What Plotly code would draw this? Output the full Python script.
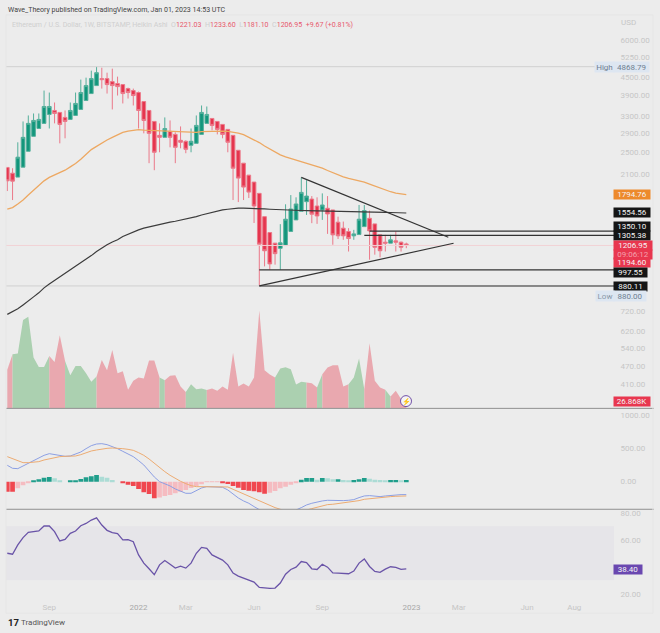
import numpy as np
import pandas as pd
import plotly.graph_objects as go

# Weekly Heikin Ashi candles
weeks = pd.date_range('2021-07-12', periods=77, freq='7D')
open_ = [2218, 2121, 2057, 2223, 2516, 2827, 3006, 3128, 3354, 3460, 3407, 3277, 3226, 3328, 3487, 3739, 3947, 4201, 4436, 4436,
         4334, 4267, 4234, 4103, 4041, 3979, 3710, 3460, 3176, 2849, 2805, 2939, 2871, 2741, 2720, 2636, 2677, 2871, 3128, 3251,
         3176, 3103, 2985, 2849, 2536, 2293, 2089, 1979, 1812, 1511, 1335, 1229, 1180, 1206, 1346, 1473, 1575, 1698, 1733, 1642,
         1592, 1613, 1592, 1447, 1381, 1346, 1301, 1314, 1398, 1492, 1428, 1311, 1238, 1229, 1251, 1238, 1221.03]
high = [2218, 2205, 2699, 3176, 3328, 3380, 3380, 4041, 3979, 3682, 3407, 3460, 3682, 3979, 4402, 4470, 4720, 4868.79, 4831, 4646,
        4794, 4505, 4234, 4135, 4103, 4010, 3710, 3460, 3176, 3128, 3277, 3201, 2917, 3055, 2741, 3006, 3328, 3597, 3569, 3251,
        3176, 3103, 2985, 2849, 2536, 2293, 2089, 1979, 1812, 1511, 1335, 1229, 1425, 1664, 1788, 1757, 2052, 2009, 1774, 1757,
        1812, 1774, 1592, 1511, 1454, 1381, 1363, 1655, 1655, 1584, 1428, 1311, 1311, 1311, 1346, 1244, 1233.60]
low = [1845, 1720, 2057, 2223, 2516, 2827, 3006, 3128, 3006, 3128, 2677, 2784, 3226, 3328, 3487, 3739, 3947, 4201, 4103, 3947,
       3487, 3887, 3654, 3797, 3597, 3006, 2894, 2293, 2171, 2497, 2805, 2595, 2293, 2575, 2478, 2497, 2677, 2871, 3128, 2962,
       2871, 2784, 2497, 1720, 1693, 1720, 1747, 1438, 880, 1025, 999, 1039, 999, 1206, 1346, 1473, 1575, 1531, 1436, 1428,
       1473, 1321, 1213, 1269, 1261, 1151, 1261, 1314, 1398, 1080, 1123, 1100, 1151, 1229, 1151, 1151, 1181.10]
close = [1998, 1993, 2403, 2805, 3128, 3201, 3226, 3569, 3569, 3380, 3103, 3176, 3460, 3655, 3979, 4201, 4436, 4646, 4402, 4234,
         4201, 4168, 3947, 3979, 3887, 3460, 3201, 2894, 2497, 2805, 3006, 2805, 2595, 2699, 2555, 2720, 3079, 3407, 3354, 3079,
         2985, 2871, 2699, 2205, 2041, 1903, 1830, 1642, 1219, 1158, 1045, 1132, 1232, 1481, 1604, 1668, 1826, 1774, 1540, 1519,
         1655, 1543, 1311, 1301, 1301, 1274, 1321, 1481, 1584, 1352, 1190, 1158, 1229, 1261, 1238, 1190, 1206.95]

ma_orange = [1601, 1621, 1668, 1720, 1788, 1859, 1933, 1998, 2052, 2089, 2127, 2171, 2228, 2287, 2366, 2453, 2550, 2615, 2684, 2747,
             2805, 2856, 2917, 2945, 2968, 2978, 2968, 2962, 2955, 2955, 2955, 2945, 2939, 2924, 2917, 2910, 2917, 2932, 2939, 2945,
             2945, 2945, 2939, 2924, 2901, 2866, 2813, 2756, 2693, 2622, 2556, 2497, 2446, 2409, 2380, 2347, 2317, 2287, 2258, 2235,
             2205, 2166, 2127, 2094, 2062, 2037, 2021, 2005, 1979, 1948, 1918, 1888, 1859, 1835, 1816, 1802, 1794.76]
ma_black = [705, 719, 736, 759, 781, 808, 834, 867, 894, 919, 941, 968, 999, 1025, 1053, 1080, 1115, 1151, 1183, 1213,
            1240, 1261, 1295, 1320, 1340, 1363, 1381, 1395, 1406, 1420, 1431, 1447, 1458, 1469, 1481, 1492, 1511, 1531, 1547, 1564,
            1580, 1592, 1601, 1609, 1614, 1614, 1614, 1611, 1609, 1605, 1601, 1597, 1592, 1590, 1589, 1587, 1585, 1584, 1582, 1581,
            1580, 1579, 1578, 1576, 1575, 1573, 1572, 1570, 1569, 1567, 1566, 1564, 1562, 1561, 1559, 1558, 1554.56]

# Volume in thousands
volume = [148.5, 208.6, 211.2, 340.5, 353.3, 195.8, 160, 160, 202.2, 179.2, 281.6, 183, 128, 163.8, 163.8, 135.7, 102.4, 122.9, 186.9, 147.2,
          225.3, 135.7, 143.4, 71.7, 106.2, 119, 115.2, 184.3, 184.3, 119, 108.8, 125.4, 128, 84.5, 62.7, 93.4, 74.2, 76.8, 70.4, 76.8,
          67.8, 84.5, 71.7, 215, 84.5, 96, 84.5, 119, 377.6, 147.2, 130.6, 119, 153.6, 158.7, 151, 92.2, 102.4, 99.8, 97.3, 80.6,
          131.8, 157.4, 166.4, 166.4, 84.5, 93.4, 119, 192, 74.2, 250.9, 106.2, 80.6, 71.7, 46.1, 67.8, 35.8, 26.868]
# (first week, last week, direction) of each coloured stretch of the volume area
volume_runs = [(0, 1, 'down'), (1, 8, 'up'), (8, 11, 'down'), (11, 17, 'up'), (17, 29, 'down'), (29, 30, 'up'), (30, 34, 'down'),
               (34, 38, 'up'), (38, 51, 'down'), (51, 57, 'up'), (57, 59, 'down'), (59, 60, 'up'), (60, 65, 'down'),
               (65, 68, 'up'), (68, 72, 'down'), (72, 73, 'up'), (73, 76, 'down')]

macd = [245, 200, 195, 235, 275, 310, 350, 395, 420, 410, 390, 380, 385, 410, 445, 495, 540, 565, 570, 555,
        530, 495, 455, 420, 375, 315, 250, 160, 70, 0, -30, -65, -110, -145, -175, -175, -135, -95, -75, -75,
        -75, -85, -125, -190, -245, -290, -325, -375, -425, -465, -540, -565, -565, -555, -515, -425, -390, -350, -325, -305,
        -290, -280, -285, -285, -285, -280, -270, -240, -215, -210, -220, -225, -215, -205, -200, -195, -195]
signal = [375, 345, 315, 285, 285, 290, 300, 325, 345, 360, 375, 380, 380, 385, 405, 435, 460, 475, 490, 500,
          505, 505, 495, 485, 470, 435, 395, 340, 275, 210, 150, 95, 45, 5, -30, -60, -75, -75, -70, -70,
          -70, -70, -80, -115, -150, -185, -215, -255, -285, -320, -355, -390, -415, -445, -490, -465, -440, -425, -405, -385,
          -365, -345, -340, -330, -325, -315, -305, -285, -265, -255, -250, -245, -235, -225, -220, -215, -215]
hist = [-150, -150, -100, -55, -25, 10, 35, 60, 70, 50, 20, 0, 10, 20, 40, 65, 80, 100, 75, 60,
        25, 0, -20, -45, -65, -110, -160, -185, -250, -240, -215, -200, -175, -150, -125, -95, -65, -40, -5, -3,
        -2, -15, -35, -65, -90, -125, -135, -145, -160, -180, -165, -140, -100, -75, -45, -20, 30, 55, 55, 30,
        55, 50, 35, 35, 25, 20, 25, 35, 55, 45, 30, 25, 15, 25, 25, 15, 25]

rsi = [50.0, 49.3, 56.2, 61.6, 65.5, 66.0, 66.5, 70.2, 70.2, 66.0, 59.1, 60.3, 64.8, 66.5, 70.4, 72.1, 74.6, 76.3, 70.9, 67.0,
       65.3, 64.5, 59.9, 60.1, 58.6, 48.8, 42.7, 38.5, 34.1, 41.4, 44.6, 41.9, 39.0, 40.4, 39.0, 42.7, 50.0, 54.4, 53.7, 48.8,
       46.8, 44.9, 41.4, 35.3, 33.1, 31.6, 30.6, 28.6, 24.7, 24.2, 24.0, 24.2, 27.9, 34.5, 38.0, 39.7, 43.9, 43.1, 38.5, 38.0,
       41.9, 39.7, 35.5, 35.3, 35.3, 34.8, 36.8, 42.7, 45.8, 40.2, 36.5, 35.8, 38.2, 40.0, 39.5, 38.0, 38.40]

# Drawn levels: (start date, price)
levels = [('2022-06-13', 997.55), ('2022-06-13', 880.11), ('2022-11-07', 1350.10), ('2022-10-31', 1305.38)]
triangle_low = (['2022-06-13', '2023-02-27'], [880.11, 1228])
triangle_high = (['2022-08-08', '2023-02-20'], [2052, 1286])
high_price = 4868.79
low_price = 880.11
last_price = 1206.95

price_ticks = [6000, 5250, 4500, 3900, 3300, 2900, 2500, 2100, 720, 620, 540, 470, 410]
macd_ticks = [1000, 500, 0]
rsi_ticks = [80, 60, 20]
time_ticks = ['2021-09-06', '2022-01-03', '2022-03-07', '2022-06-06', '2022-09-05', '2023-01-02', '2023-03-06', '2023-06-05', '2023-08-07']
year_tag = "<span style='color:#a8a8a8'>"
time_labels = ['Sep', f'{year_tag}2022</span>', 'Mar', 'Jun', 'Sep', f'{year_tag}2023</span>', 'Mar', 'Jun', 'Aug']

W, H = 660, 633
BG = '#ececec'
GREEN, RED = '#12967c', '#e5354e'
TICK = '#c6c6c6'
FONT = 'Roboto'


def px(x):
    return x / W


def py(y):
    return 1 - y / H


# Time axis: 5.25 px per week, first candle at 7.3 px, plot from 6 to 614 px
week_px = 5.25
x_left = weeks[0] - pd.Timedelta(weeks=(7.3 - 6) / week_px)
x_right = weeks[0] + pd.Timedelta(weeks=(614 - 7.3) / week_px)
x_range = [x_left, x_right]

fig = go.Figure()

# Volume goes under everything else in the price pane
for first, last, direction in volume_runs:
    fig.add_trace(go.Scatter(x=weeks[first:last + 1], y=volume[first:last + 1], yaxis='y2', mode='none', fill='tozeroy',
                             fillcolor='#abd0b0' if direction == 'up' else '#e9a8af'))

# Price pane
fig.add_trace(go.Scatter(x=x_range, y=[high_price, high_price], mode='lines', line=dict(color='#d0d0d0', width=1)))
fig.add_trace(go.Scatter(x=x_range, y=[low_price, low_price], mode='lines', line=dict(color='#d0d0d0', width=1)))
fig.add_trace(go.Scatter(x=x_range, y=[last_price, last_price], mode='lines', line=dict(color='#f2d2d5', width=1)))
fig.add_trace(go.Candlestick(x=weeks, open=open_, high=high, low=low, close=close,
                             increasing=dict(line=dict(color='#55b09c', width=1), fillcolor=GREEN),
                             decreasing=dict(line=dict(color='#ec7a8a', width=1), fillcolor=RED),
                             whiskerwidth=0))
fig.add_trace(go.Scatter(x=weeks, y=ma_orange, mode='lines', line=dict(color='#eda862', width=1.3)))
fig.add_trace(go.Scatter(x=weeks, y=ma_black, mode='lines', line=dict(color='#3c3c3c', width=1.2)))
for start, price in levels:
    fig.add_trace(go.Scatter(x=[start, x_right], y=[price, price], mode='lines', line=dict(color='#333333', width=1.1)))
for line_x, line_y in [triangle_low, triangle_high]:
    fig.add_trace(go.Scatter(x=line_x, y=line_y, mode='lines', line=dict(color='#333333', width=1.2)))

# MACD pane: bar shade says if the histogram grows or shrinks
hist_colors = []
for i, h in enumerate(hist):
    prev = hist[i - 1] if i > 0 else h
    if h >= 0:
        hist_colors.append('#1f9e8b' if h >= prev else '#acdcd5')
    else:
        hist_colors.append('#f5bcc1' if h > prev else '#f0474f')
fig.add_trace(go.Bar(x=weeks, y=hist, yaxis='y3', marker=dict(color=hist_colors, line_width=0)))
fig.add_trace(go.Scatter(x=weeks, y=macd, yaxis='y3', mode='lines', line=dict(color='#8c9fe3', width=1)))
fig.add_trace(go.Scatter(x=weeks, y=signal, yaxis='y3', mode='lines', line=dict(color='#ecab72', width=1)))

# RSI pane
fig.add_trace(go.Scatter(x=weeks, y=rsi, yaxis='y4', mode='lines', line=dict(color='#6a54a8', width=1.3)))

tick_font = dict(family=FONT, size=8, color=TICK)
y_common = dict(side='right', anchor='x', showgrid=False, zeroline=False, showline=False,
                ticks='outside', ticklen=4, tickcolor='rgba(0,0,0,0)', tickfont=tick_font, tickmode='array')

fig.update_layout(
    width=W, height=H, margin=dict(l=0, r=0, t=0, b=0), autosize=False,
    paper_bgcolor=BG, plot_bgcolor=BG, showlegend=False, bargap=0.1, boxgap=0,
    font=dict(family=FONT),
    xaxis=dict(type='date', domain=[px(6), px(614)], range=x_range, anchor='y4', showgrid=False, zeroline=False,
               rangeslider=dict(visible=False), tickmode='array', tickvals=time_ticks, ticktext=time_labels,
               tickfont=tick_font, ticks='outside', ticklen=3, tickcolor='rgba(0,0,0,0)'),
    # Price pane runs down to the first separator, its log scale holds the lower labels too
    yaxis=dict(type='log', domain=[py(409.3), py(22)], range=[np.log10(338.6), np.log10(6851)],
               tickvals=price_ticks, ticktext=[f'{t:.2f}' for t in price_ticks], **y_common),
    yaxis2=dict(overlaying='y', range=[0, 1487], visible=False, anchor='x'),
    yaxis3=dict(domain=[py(510.7), py(409.3)], range=[-415, 1100],
                tickvals=macd_ticks, ticktext=[f'{t:.2f}' for t in macd_ticks], **y_common),
    yaxis4=dict(domain=[py(598), py(510.7)], range=[18.2, 82.6],
                tickvals=rsi_ticks, ticktext=[f'{t:.2f}' for t in rsi_ticks], **y_common),
)

# RSI band, pane separators, frame
shapes = [
    dict(type='rect', xref='x domain', x0=0, x1=1, yref='y4', y0=30, y1=70, fillcolor='#e6e5e9', line_width=0, layer='below'),
    dict(type='line', xref='paper', yref='paper', x0=px(6), x1=px(654), y0=py(409.3), y1=py(409.3), line=dict(color='#8f8f8f', width=1)),
    dict(type='line', xref='paper', yref='paper', x0=px(6), x1=px(654), y0=py(510.7), y1=py(510.7), line=dict(color='#8f8f8f', width=1)),
    dict(type='rect', xref='paper', yref='paper', x0=px(6), x1=px(653), y0=py(615), y1=py(14), line=dict(color='#e6e6e6', width=1)),
    # Circle around the lightning icon at the end of the volume
    dict(type='circle', xref='paper', yref='paper', x0=px(400.5), x1=px(411.5), y0=py(407.5), y1=py(396.5),
         fillcolor='#f4f4f4', line=dict(color='#7150a8', width=1)),
]

annotations = []


def label(text, x, y, size=8, color='#333333', xanchor='left', **kw):
    annotations.append(dict(text=text, xref='paper', yref='paper', x=px(x), y=py(y), xanchor=xanchor, yanchor='middle',
                            showarrow=False, font=dict(family=FONT, size=size, color=color), **kw))


def badge(text, y, bg, width=36, height=9, x=613, color='#f4f4f4'):
    label(text, x, y, color=color, bgcolor=bg, width=width, height=height, borderpad=0, align='center')


label('Wave_Theory published on TradingView.com, Jan 01, 2023 14:53 UTC', 5.5, 8.5, size=7.05, color='#444444')
grey = "<span style='color:#cfcfcf'>"
red = "<span style='color:#e8596c'>"
label(f"{grey}Ethereum / U.S. Dollar, 1W, BITSTAMP, Heikin Ashi  O</span>{red}1221.03</span>  {grey}H</span>{red}1233.60</span>"
      f"  {grey}L</span>{red}1181.10</span>  {grey}C</span>{red}1206.95  +9.67 (+0.81%)</span>", 10, 23.5, size=7.05)
label('USD', 619, 22, color=TICK)

badge('1794.76', 194.5, '#ed8a2c')
badge('1554.56', 213, '#151515')
badge('1350.10', 227, '#151515')
badge('1305.38', 236, '#151515')
badge('1206.95', 246, '#e8374f', width=38)
badge('09:06:12', 254.5, '#e8374f', width=38, color='#f5a0ac')
badge('1194.60', 263, '#e8374f')
badge('997.55', 273, '#151515', width=33)
badge('880.11', 287, '#151515', width=33)

label('High', 593.5, 66, color='#6f7f92', bgcolor='#dde6f1', width=19, height=10, borderpad=0, align='center')
label('4868.79', 613, 66, color='#6f7f92', bgcolor='#dde6f1', width=35, height=10, borderpad=0, align='center')
label('Low', 594.5, 296, color='#8a98a8', bgcolor='#dde6f1', width=18, height=10, borderpad=0, align='center')
label('880.00', 613, 296, color='#6f7f92', bgcolor='#dde6f1', width=32, height=10, borderpad=0, align='center')

badge('26.868K', 402.3, '#e8374f')
badge('38.40', 571, '#6a48b0', width=28)

label('\u26a1', 406, 402, size=7, color='#7150a8', xanchor='center')
label('<b>17</b>', 5.5, 624, size=9.5, color='#222222')
label('TradingView', 19, 624, size=8, color='#555555')

fig.update_layout(shapes=shapes, annotations=annotations)

fig.write_html('out.html', config=dict(displayModeBar=False), post_script="document.body.style.margin='0';")
